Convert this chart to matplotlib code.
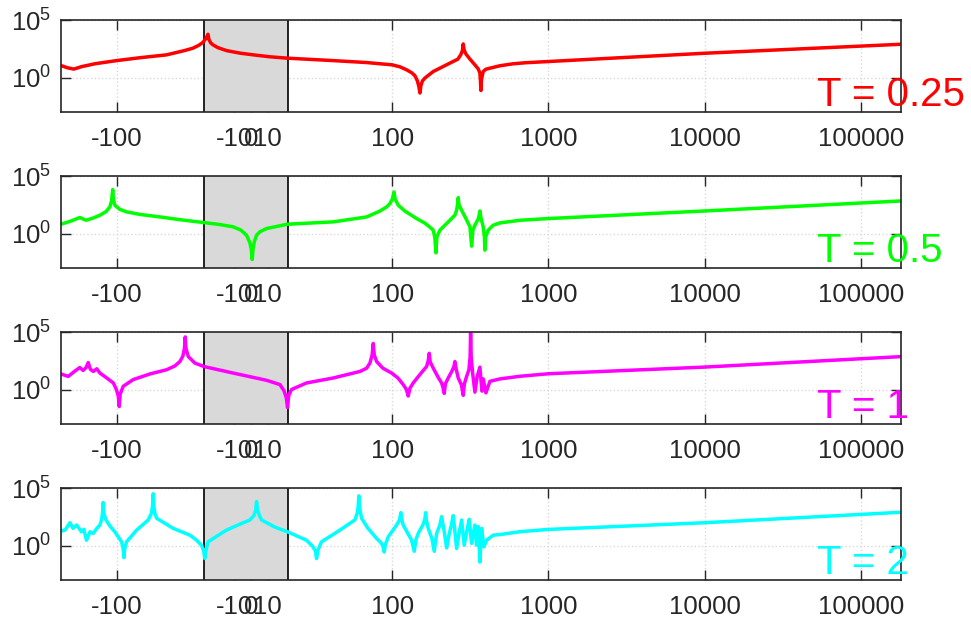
import numpy as np
import matplotlib
matplotlib.use("Agg")
import matplotlib.pyplot as plt
from matplotlib.transforms import blended_transform_factory

plt.rcParams['font.family'] = ['Liberation Sans', 'DejaVu Sans']
plt.rcParams['mathtext.fontset'] = 'custom'
plt.rcParams['mathtext.rm'] = 'Liberation Sans'
plt.rcParams['mathtext.it'] = 'Liberation Sans'

# ---------------- data (x in data units, y as log10 of magnitude) ----------------
x_t025 = [-227, -207, -188, -167, -137, -100, -71, -47.9, -36.6, -32.5, -29.8, -28.05,
          -27.2, -26.3, -25.7, -25.1, -24.0, -22.6, -19.8, -14.6, -6.6, 1.4, 11.4, 21.4,
          41.9, 68.6, 100, 112, 123.6, 133.7, 139.8, 145, 148.2, 150.4, 152.7, 156.1,
          161.9, 183, 234, 263.3, 275.2, 281.4, 284.7, 288.5, 296.2, 314.3, 338.2, 355.1,
          364, 367, 369.6, 372, 375, 382.1, 397.7, 421.8, 488.8, 592, 706, 1000, 10000,
          180000]
ly_t025 = [1.04, 0.85, 0.73, 0.95, 1.2, 1.47, 1.72, 1.97, 2.35, 2.55, 2.8, 3.05,
           3.3, 3.55, 3.76, 3.3, 3.0, 2.83, 2.6, 2.34, 2.12, 1.97, 1.8, 1.68,
           1.47, 1.3, 1.1, 0.93, 0.67, 0.4, 0.15, -0.3, -0.8, -1.35, -0.7, -0.3,
           -0.05, 0.52, 1.25, 1.6, 2.0, 2.35, 2.92, 2.4, 2.05, 1.6, 1.1, 0.75,
           0.38, -0.3, -1.13, -0.3, 0.0, 0.52, 0.72, 0.81, 1.02, 1.19, 1.28, 1.39, 2.11,
           2.89]

x_t05 = [-227, -199, -172, -157, -141, -128, -117, -110.5, -107.6, -106, -104.8, -102.7,
         -95.4, -86.4, -71, -52.9, -39.4, -27.7, -18.6, -10.6, -6.0, -2.6, -0.6, 0.3,
         0.8, 1.3, 2.1, 3.4, 5.4, 9.4, 21.4, 41.9, 68.6, 83.4, 92.1, 96.7, 100.3, 102.6,
         104.4, 109.3, 120.6, 143.3, 161.9, 174.3, 183, 187.6, 190.4, 193.2, 202, 234,
         252, 258.3, 261.7, 264.6, 267.3, 278.1, 296.2, 314.3, 322.2, 328.4, 338.2, 356.1,
         364, 370.6, 382.1, 389, 391.9, 396.5, 411.4, 442.8, 488.8, 656, 1000, 10000,
         180000]
ly_t05 = [0.81, 1.05, 1.39, 1.15, 1.35, 1.59, 1.9, 2.31, 2.9, 3.82, 2.95, 2.46,
          2.1, 1.88, 1.66, 1.44, 1.2, 0.95, 0.78, 0.58, 0.3, -0.15, -0.8, -1.4,
          -2.26, -1.3, -0.7, -0.15, 0.15, 0.43, 0.81, 1.01, 1.44, 1.95, 2.31, 2.6, 3.0, 3.61,
          3.0, 2.46, 1.95, 1.30, 0.9, 0.55, 0.29, -0.4, -1.68, -0.3, 0.29, 1.15,
          1.6, 2.02, 2.5, 3.12, 2.5, 2.02, 1.3, 0.58, -1.1, 0.3, 0.72, 1.3,
          1.96, 1.3, 0.58, -0.3, -1.45, -0.3, 0.29, 0.72, 0.92, 1.15, 1.30, 1.96,
          2.83]

x_t1 = [-227, -204, -185, -172, -164, -157, -152, -147.2, -141, -134, -128, -117, -105,
        -100.4, -97.5, -96.3, -94.9, -90.8, -78.4, -61.3, -47.9, -42.4, -39.4, -37.7,
        -36.8, -36.4, -36.05, -34.8, -31.6, -27.7, -10.6, 9.4, 17.4, 19.8, 21.0, 21.4,
        21.8, 22.7, 28.3, 41.9, 62.2, 68.6, 72.0, 74.4, 75.6, 76.8, 79.5, 87.2, 99.2,
        108.8, 117.6, 123.3, 126.6, 129.8, 136.3, 150.4, 166, 170, 172.5, 175.1, 183,
        196.1, 207.1, 212, 215.3, 219, 228.2, 241, 248.4, 252, 256.5, 264.6, 277.3,
        284.7, 289.7, 299.3, 309.5, 315.1, 317.4, 320.3, 327, 338.2, 349.8, 364, 375,
        382.1, 397.7, 421.8, 488.8, 656, 1000, 10000, 180000]
ly_t1 = [1.35, 1.14, 1.6, 1.91, 1.66, 1.9, 2.34, 1.75, 1.57, 1.8, 1.43, 1.05, 0.57,
         0.0, -0.6, -1.48, -0.4, 0.28, 0.86, 1.35, 1.72, 2.05, 2.43, 2.9,
         3.6, 4.57, 3.6, 2.86, 2.3, 2.0, 1.43, 0.8, 0.43, -0.1, -0.7, -1.57,
         -0.5, 0.0, 0.57, 1.0, 1.57, 1.85, 2.29, 3.0, 4.0, 3.0, 2.43, 1.85, 1.43,
         1.0, 0.43, 0.0, -0.57, 0.1, 0.57, 1.3, 2.0, 2.5, 3.15, 2.4, 1.86,
         1.1, 0.57, 0.1, -0.34, 0.5, 1.0, 1.6, 2.0, 2.43, 1.8, 1.0, 0.4,
         -0.51, 0.5, 1.14, 1.7, 2.8, 4.91, 2.8, 1.43, -0.23, 1.14, 1.94, -0.14,
         0.92, -0.29, 0.71, 0.92, 1.15, 1.37, 1.95, 2.86]

x_t2 = [-227, -214, -199, -190, -180, -168, -162, -156, -148, -141, -134, -128, -125,
        -123.2, -122, -120.7, -117, -110.5, -102.7, -93, -90.8, -89.9, -88.8, -86.4,
        -74.5, -62.8, -59.9, -59.0, -58.4, -57.8, -56.9, -55.5, -43.5, -34, -30.8,
        -28.6, -27.7, -27.3, -26.9, -25.6, -14.6, -6.6, -0.6, 1.8, 2.9, 3.4, 4.0, 5.1,
        6.4, 14.4, 21.4, 28.3, 31.1, 32.3, 32.8, 33.5, 35.3, 46.3, 57.7, 59.7, 60.6,
        61.2, 62.0, 63.7, 69.9, 79.5, 84.7, 87.2, 88.9, 90.5, 94.3, 106.7, 111.2, 113.7,
        115.4, 117.6, 133.1, 138.3, 141.9, 146.7, 157.2, 161.9, 163.6, 165.5, 170,
        179.5, 185.7, 192.4, 202, 207.1, 215.3, 223, 230.7, 239.2, 245.6, 252, 258.3,
        267.3, 278.1, 283.5, 288.9, 300.6, 311, 316.4, 322.2, 330.8, 338.2, 346.7,
        355.1, 364, 373.4, 386, 401.9, 442.8, 488.8, 656, 1000, 10000, 180000]
ly_t2 = [1.25, 1.34, 1.98, 1.49, 1.78, 1.19, 1.4, 0.46, 1.19, 1.05, 1.49, 1.78, 2.22,
         2.8, 3.74, 2.8, 2.22, 1.7, 1.19, 0.32, -0.3, -1.05, -0.3, 0.32,
         1.34, 2.22, 2.8, 3.4, 4.5, 3.4, 2.8, 2.37, 1.49, 0.9, 0.46,
         0.0, -0.5, -1.14, -0.5, 0.32, 1.34, 1.85, 2.22, 2.6, 3.1, 3.82, 3.1, 2.6,
         2.22, 1.6, 1.19, 0.46, -0.1, -0.5, -1.14, -0.4, 0.32, 1.34, 2.22, 2.8, 3.4,
         4.32, 3.2, 2.37, 1.5, 0.61, 0.25, -0.05, -0.56, 0.1, 0.75, 1.78, 2.2, 2.86,
         2.2, 1.78, 0.46, -0.5, 0.5, 1.05, 1.8, 2.3, 2.86, 2.2, 1.49,
         0.6, -0.5, 1.05, 1.8, 2.51, 1.19, -0.21, 0.9, 1.8, 2.6, 1.2, -0.26,
         1.0, 2.22, 1.1, 0.03, 1.3, 2.28, 1.2, 0.18, 1.1, 1.78, 0.03,
         1.63, -1.44, 1.49, -0.12, 0.46, 0.9, 0.95, 1.2, 1.40, 1.98, 2.89]

series_x = [x_t025, x_t05, x_t1, x_t2]
series_ly = [ly_t025, ly_t05, ly_t1, ly_t2]
labels = ['T = 0.25', 'T = 0.5', 'T = 1', 'T = 2']
colors = ['#ff0000', '#00ff00', '#ff00ff', '#00ffff']

xticks = [-100, -10, 0, 10, 100, 1000, 10000, 100000]
xticklabels = ['-100', '-10', '0', '10', '100', '1000', '10000', '100000']
shade_lo, shade_hi = -27.6, 21.4

# ---------------- custom x scale (linear core, log wings) ----------------
S = 1.67      # linear slope
LP = 20.8     # positive threshold
LN = 26.7     # negative threshold
D = 156.3     # units per decade


def fwd(x):
    x = np.asarray(x, dtype=float)
    out = S * x
    xp = np.maximum(x, LP)
    xn = np.maximum(-x, LN)
    out = np.where(x > LP, S * LP + D * np.log10(xp / LP), out)
    out = np.where(x < -LN, -(S * LN + D * np.log10(xn / LN)), out)
    return out


def inv(u):
    u = np.asarray(u, dtype=float)
    out = u / S
    up = np.clip(u, S * LP, 5000)
    un = np.clip(-u, S * LN, 5000)
    out = np.where(u > S * LP, LP * 10 ** ((up - S * LP) / D), out)
    out = np.where(u < -S * LN, -LN * 10 ** ((un - S * LN) / D), out)
    return out


fig = plt.figure(figsize=(9.71, 6.24), dpi=100)
W, H = 971, 624
tops = [20, 176, 332, 488]
ax_h = 92
gridc = '#d9d9d9'
axc = '#262626'

for i in range(4):
    ax = fig.add_axes([61 / W, 1 - (tops[i] + ax_h) / H, 840 / W, ax_h / H])
    ax.set_xscale('function', functions=(fwd, inv))
    ax.set_yscale('log')
    ax.set_xlim(-227, 180000)
    ax.set_ylim(1e-3, 1e5)

    ax.axvspan(shade_lo, shade_hi, color='#d9d9d9', zorder=1.5, lw=0)
    ax.axvline(shade_lo, color='black', lw=1.2, zorder=1.6)
    ax.axvline(shade_hi, color='black', lw=1.2, zorder=1.6)

    ax.plot(series_x[i], 10 ** np.asarray(series_ly[i]), color=colors[i], lw=2.5,
            zorder=3)

    ax.set_xticks(xticks)
    ax.set_xticklabels(xticklabels)
    ax.set_yticks([1, 1e5])
    ax.set_yticklabels([r'$\mathdefault{10^{0}}$', r'$\mathdefault{10^{5}}$'])
    ax.minorticks_off()
    ax.tick_params(direction='in', length=7, width=1, colors=axc, labelsize=18.5,
                   top=True, right=True, pad=7)
    ax.tick_params(axis='x', pad=10.5)
    ax.grid(True, ls=':', color=gridc, lw=1, zorder=0)
    ax.set_axisbelow(True)
    for sp in ax.spines.values():
        sp.set_color(axc)
        sp.set_linewidth(1.2)
        sp.set_zorder(4)

    tr = blended_transform_factory(ax.transAxes, ax.transData)
    ax.text(0.9, 10 ** -2.5, labels[i], transform=tr, color=colors[i], fontsize=29,
            ha='left', va='baseline', clip_on=False, zorder=5)

fig.savefig('out.png', dpi=100)
